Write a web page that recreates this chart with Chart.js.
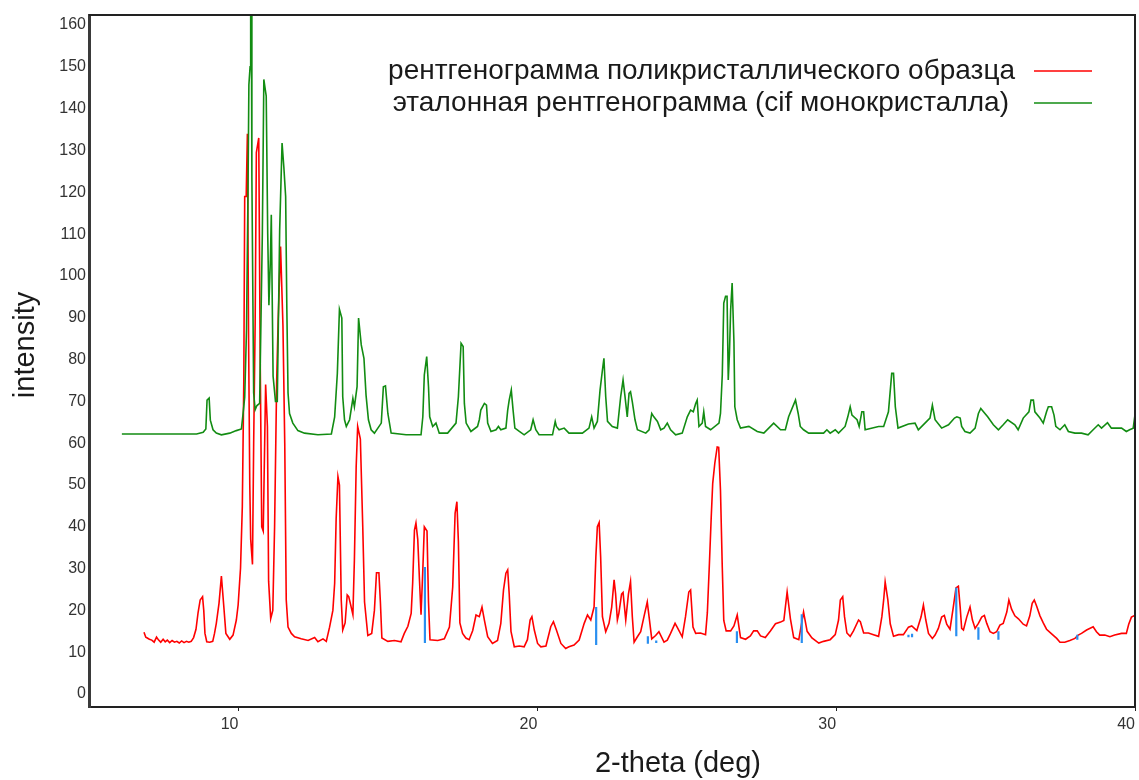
<!DOCTYPE html>
<html>
<head>
<meta charset="utf-8">
<script src="https://cdn.jsdelivr.net/npm/chart.js@4"></script>
<style>
  body { margin: 0; background: #fff; }
</style>
</head>
<body>
<canvas id="chart" width="1139" height="780"></canvas>
<script>
// axis ticks
const xTicks = [10, 20, 30, 40];
const yTicks = [0, 10, 20, 30, 40, 50, 60, 70, 80, 90, 100, 110, 120, 130, 140, 150, 160];

// polycrystal sample pattern (red)
const sampleTheta = [6.84, 6.9, 6.95, 7.02, 7.1, 7.18, 7.26, 7.33, 7.4, 7.48, 7.55, 7.62, 7.7, 7.78, 7.86, 7.94, 8.02, 8.1, 8.18, 8.26, 8.34, 8.42,
  8.5, 8.58, 8.65, 8.72, 8.8, 8.84, 8.88, 8.94, 9.04, 9.14, 9.2, 9.26, 9.35, 9.43, 9.51, 9.58, 9.71, 9.82, 9.93, 9.99,
  10.07, 10.13, 10.18, 10.21, 10.26, 10.30, 10.34, 10.38, 10.41, 10.47, 10.51, 10.56, 10.60, 10.68, 10.73, 10.78, 10.83, 10.91, 10.97,
  11.01, 11.08, 11.15, 11.21, 11.28, 11.33, 11.41, 11.49, 11.55, 11.6, 11.66, 11.77, 11.88,
  12.1, 12.33, 12.55, 12.66, 12.83, 12.94, 13.05, 13.16, 13.22, 13.27, 13.33, 13.38, 13.44, 13.49, 13.57, 13.64, 13.69, 13.75, 13.83, 13.88, 13.94, 13.99,
  14.08, 14.16, 14.22, 14.33, 14.46, 14.55, 14.62, 14.7, 14.75, 14.8, 15.0, 15.22, 15.44, 15.55, 15.67, 15.78, 15.83, 15.89, 15.94,
  16.0, 16.06, 16.11, 16.17, 16.22, 16.31, 16.36, 16.41, 16.67, 16.89, 17.06, 17.17, 17.25, 17.31, 17.36, 17.41, 17.5, 17.61, 17.72, 17.84, 17.95,
  18.06, 18.15, 18.23, 18.34, 18.5, 18.67, 18.78, 18.87, 18.95, 19.01, 19.06, 19.12, 19.23, 19.4, 19.56, 19.67, 19.76, 19.82, 19.9,
  20.01, 20.12, 20.29, 20.45, 20.54, 20.64, 20.79, 20.95, 21.06, 21.23, 21.4, 21.57, 21.68, 21.79, 21.9, 21.96,
  22.01, 22.07, 22.12, 22.18, 22.29, 22.4, 22.49, 22.57, 22.62, 22.68, 22.73, 22.82, 22.87, 22.96, 23.05, 23.12, 23.18, 23.24, 23.35, 23.46, 23.57, 23.68, 23.74, 23.83, 23.96,
  24.07, 24.24, 24.35, 24.46, 24.61, 24.68, 24.85, 24.96, 25.07, 25.13, 25.21, 25.3, 25.46, 25.63, 25.69, 25.76, 25.82, 25.87, 25.94,
  26.02, 26.07, 26.13, 26.19, 26.24, 26.32, 26.47, 26.58, 26.69, 26.8, 26.97, 27.13, 27.24, 27.36, 27.47, 27.63, 27.8, 27.97,
  28.14, 28.25, 28.36, 28.47, 28.58, 28.75, 28.91, 29.03, 29.19, 29.42, 29.58, 29.8, 29.97,
  30.08, 30.14, 30.22, 30.28, 30.36, 30.47, 30.58, 30.75, 30.81, 30.92, 31.08, 31.25, 31.42, 31.53, 31.59, 31.64, 31.73, 31.81, 31.92,
  32.09, 32.25, 32.42, 32.53, 32.7, 32.84, 32.92, 33.0, 33.09, 33.22, 33.31, 33.42, 33.53, 33.62, 33.7, 33.81, 33.92,
  34.01, 34.09, 34.15, 34.2, 34.26, 34.37, 34.48, 34.56, 34.65, 34.76, 34.87, 34.96, 35.04, 35.15, 35.26, 35.37, 35.48, 35.59, 35.71, 35.78, 35.87, 35.98,
  36.1, 36.26, 36.37, 36.48, 36.56, 36.63, 36.71, 36.82, 36.93, 37.04, 37.21, 37.38, 37.49, 37.65, 37.82, 37.99,
  38.1, 38.21, 38.38, 38.6, 38.71, 38.82, 38.99, 39.16, 39.32, 39.55, 39.71, 39.79, 39.88, 39.99, 40.07];
const sampleIntensity = [14.8, 13.6, 13.4, 13.1, 12.9, 12.4, 13.6, 12.9, 12.4, 13.1, 12.5, 12.9, 12.3, 12.8, 12.4, 12.6, 12.2, 12.7, 12.3, 12.6, 12.4, 12.6,
  13.5, 15.5, 19.5, 22.5, 23.3, 20, 14.5, 12.5, 12.4, 12.6, 14.5, 16.9, 21.7, 28.2, 21, 14.5, 13.1, 14.1, 17.7, 21.3,
  30.1, 44.8, 75, 119, 119, 134, 85, 50, 37, 31, 60, 89, 129.5, 133, 79, 40, 39, 74, 64,
  27, 18, 20, 40, 75, 89.5, 107, 88, 60, 22.5, 16, 14.5, 13.7,
  13.2, 12.8, 13.5, 12.5, 13.2, 12.6, 16, 20, 26.5, 42, 52, 50, 22.5, 15.3, 17, 23.7, 23.3, 21.5, 19, 32, 54.4, 64,
  61, 40, 22, 14, 14.5, 20, 29, 29, 22, 13.4, 12.6, 12.8, 12.5, 14.5, 16.2, 19.3, 26.5, 39.2, 40.9,
  37, 27, 19, 29.7, 40, 39, 22, 13, 12.8, 13.2, 16, 25.6, 43.2, 46, 36.5, 17, 14.5, 13.4, 13, 15.2, 18.9,
  18.5, 20.8, 17.7, 13.7, 12.1, 12.8, 16.9, 24.9, 28.9, 29.7, 24, 15, 11.3, 11.5, 11.3, 13, 17.7, 18.5, 15.3,
  12.1, 11.3, 11.5, 16.1, 17.3, 15.3, 12.1, 10.9, 11.3, 11.7, 12.9, 16.9, 18.9, 17.7, 20.8, 32.8,
  40, 41, 32.8, 18.5, 14.9, 16.9, 20.8, 27.3, 24, 17.7, 19.3, 23.9, 24.3, 17.7, 23.9, 26.9, 18.5, 12.4, 13.7, 14.9, 18.5, 22, 18.5, 13.2, 14,
  14.9, 12.4, 12.9, 14.5, 16.9, 16, 13.7, 18.5, 24.4, 24.9, 16, 14.5, 14.6, 14.2, 19.4, 31.3, 42.3, 50.4, 55.2,
  59.1, 59, 48.7, 30.3, 17.6, 15.1, 15.1, 16.3, 18.9, 13.5, 13.1, 13.9, 15.1, 15.1, 13.9, 13.5, 15.1, 16.8,
  17.2, 17.6, 24.4, 18, 13.5, 13, 19.6, 15, 13.4, 12.2, 12.6, 13, 14.2,
  17.7, 22.5, 23.3, 18.5, 14.6, 13.8, 15.1, 17.7, 17.3, 14.6, 14.6, 14.2, 13.8, 18.5, 22.5, 26.8, 22.5, 16.8, 13.8,
  14.2, 14.2, 16, 16.3, 15.2, 18.4, 21.3, 17.7, 14.5, 13.3, 14.1, 15.7, 18.4, 18.8, 16.7, 15.5, 20.8,
  25.4, 25.8, 20.8, 15.7, 15.3, 18.4, 20.8, 17.7, 15.7, 16.9, 18.4, 18.8, 16.9, 14.9, 14.5, 14.9, 16.5, 16.9, 19.6, 22.5, 20.3, 18.7,
  18, 16.7, 16.3, 18.7, 21.7, 22.5, 21, 18.7, 17, 15.5, 14.4, 13.3, 12.4, 12.4, 12.8, 13.3,
  14.1, 14.5, 15.3, 16.1, 14.9, 14.1, 14.1, 13.7, 14.1, 14.5, 14.5, 16.7, 18.4, 18.8, 19];

// reference pattern from single-crystal cif (green)
const refTheta = [6.1, 8.6, 8.82, 8.91, 8.95, 9.02, 9.06, 9.15, 9.26, 9.43, 9.71, 9.93,
  10.10, 10.15, 10.21, 10.27, 10.32, 10.35, 10.39, 10.41, 10.43, 10.45, 10.51, 10.56, 10.62, 10.71, 10.80, 10.85, 10.89, 10.93, 10.98,
  11.02, 11.07, 11.10, 11.16, 11.24, 11.30, 11.38, 11.46, 11.52, 11.58, 11.62, 11.66, 11.71, 11.82, 11.99,
  12.21, 12.66, 13.11, 13.22, 13.31, 13.38, 13.46, 13.49, 13.55, 13.61, 13.72, 13.83, 13.88, 13.97,
  14.02, 14.11, 14.2, 14.27, 14.35, 14.44, 14.55, 14.78, 14.85, 14.92, 15.0, 15.11, 15.61,
  16.11, 16.17, 16.22, 16.3, 16.36, 16.4, 16.5, 16.61, 16.72, 17.0, 17.28, 17.36, 17.45, 17.52, 17.56, 17.62, 17.78,
  18.0, 18.06, 18.11, 18.23, 18.3, 18.34, 18.45, 18.62, 18.7, 18.78, 18.95, 19.01, 19.06, 19.13, 19.19, 19.25, 19.4, 19.56, 19.78, 19.86, 19.95,
  20.06, 20.51, 20.6, 20.64, 20.73, 20.9, 21.06, 21.51, 21.73, 21.82, 21.9,
  22.01, 22.1, 22.18, 22.23, 22.29, 22.35, 22.51, 22.68, 22.79, 22.87, 22.93, 23.01, 23.07, 23.12, 23.18, 23.27, 23.35, 23.63, 23.74, 23.83, 23.9,
  24.02, 24.13, 24.24, 24.35, 24.46, 24.63, 24.85, 25.02, 25.13, 25.22, 25.3, 25.35, 25.41, 25.52, 25.57, 25.63, 25.8,
  26.08, 26.13, 26.19, 26.24, 26.3, 26.35, 26.39, 26.43, 26.47, 26.52, 26.58, 26.61, 26.69, 26.8, 27.08, 27.36, 27.58, 27.91,
  28.14, 28.3, 28.41, 28.64, 28.73, 28.8, 28.91, 29.08, 29.58, 29.69, 29.8, 29.97,
  30.08, 30.3, 30.39, 30.47, 30.53, 30.7, 30.77, 30.86, 30.92, 30.97, 31.42, 31.59, 31.75, 31.86, 31.92, 31.98,
  32.07, 32.42, 32.64, 32.75, 33.03, 33.14, 33.22, 33.31, 33.53, 33.76, 33.96,
  34.04, 34.15, 34.2, 34.31, 34.48, 34.65, 34.76, 34.84, 34.93, 35.07, 35.26, 35.43, 35.59, 35.74, 35.98,
  36.09, 36.26, 36.45, 36.52, 36.6, 36.65, 36.82, 36.93, 37.04, 37.1, 37.21, 37.29, 37.35, 37.49, 37.65, 37.77, 37.99,
  38.21, 38.43, 38.6, 38.77, 38.88, 39.08, 39.21, 39.38, 39.55, 39.71, 39.82, 39.94, 39.99, 40.05];
const refIntensity = [62.2, 62.2, 62.6, 63.4, 70.3, 70.8, 65.5, 63.2, 62.4, 62.0, 62.4, 63.0,
  63.4, 66.7, 71, 87, 119.8, 145.7, 150, 170, 170, 123.7, 72, 68, 69, 69.5, 110, 147, 145, 143, 110,
  93, 104, 114.6, 76, 70, 70, 111, 131.8, 126, 119, 92, 72, 67.1, 64.8, 63.0,
  62.4, 62.0, 62.2, 66.3, 76.7, 92.0, 89.9, 71.1, 65.6, 64.0, 65.6, 70.7, 68.7, 73.5,
  89.9, 83.5, 80.3, 71.5, 65.6, 63.2, 62.4, 64.8, 73.5, 73.7, 67.1, 62.4, 62.0,
  62.0, 66.3, 76.3, 80.7, 73.5, 66.3, 64.0, 64.8, 62.4, 62.4, 64.8, 71.1, 83.9, 83.1, 69.5, 64.8, 62.8,
  64.0, 65.6, 67.9, 69.5, 69.1, 64.8, 62.8, 63.2, 64.0, 63.2, 63.6, 67.9, 70.3, 72.7, 67.9, 63.6, 62.8, 62.0, 63.2, 65.6, 63.2,
  62.0, 62.0, 65.2, 64.0, 63.2, 63.6, 62.4, 62.4, 63.6, 66.3, 63.6,
  65.2, 72.7, 77.5, 80.3, 71.1, 65.2, 64.0, 63.6, 71.1, 75.1, 71.5, 66.3, 71.9, 72.3, 69.9, 65.6, 63.2, 62.4, 63.2, 67.1, 66.3,
  65.2, 63.2, 63.6, 64.8, 63.2, 62.0, 62.4, 66.3, 67.9, 67.5, 69.5, 70.3, 64.0, 64.8, 67.5, 64.0, 63.2,
  64.8, 67.1, 76.3, 93.5, 95.1, 95.1, 75.1, 81.5, 91.9, 98.3, 84.3, 68.7, 65.6, 63.6, 64.0, 62.8, 62.4, 64.8,
  63.2, 63.2, 66.3, 70.3, 67.1, 64.0, 63.2, 62.4, 62.4, 63.2, 62.4, 63.2,
  62.4, 64.0, 66.3, 68.7, 66.7, 65.6, 64.0, 67.5, 67.5, 63.2, 64.0, 64.0, 67.5, 76.7, 76.7, 68.7,
  63.6, 64.6, 64.8, 63.2, 65.2, 66.0, 69.1, 65.6, 63.6, 64.4, 66.0,
  66.3, 66.0, 64.0, 62.8, 62.4, 63.6, 67.1, 68.3, 67.5, 66.3, 64.4, 63.2, 64.4, 65.6, 64.4,
  63.2, 66.0, 67.5, 70.3, 70.3, 67.5, 66.0, 64.8, 67.5, 68.7, 68.7, 66.7, 64.0, 63.2, 64.4, 62.8, 62.4,
  62.4, 62.0, 63.2, 64.4, 63.6, 64.9, 63.6, 63.6, 63.6, 62.8, 63.2, 63.6, 66.3, 69.1];

// blue sticks under the sample pattern
const stickTheta = [16.24, 21.97, 23.7, 23.98, 26.68, 28.85, 32.42, 32.54, 34.02, 34.76, 35.43, 38.07];
const stickLow = [12.2, 11.7, 12.0, 12.2, 12.2, 12.2, 13.6, 13.6, 13.8, 13.0, 13.0, 13.0];
const stickHigh = [30.4, 20.8, 13.8, 12.8, 15.0, 19.1, 14.2, 14.4, 25.4, 16.0, 15.0, 14.2];

const sampleLabel = "рентгенограмма поликристаллического образца";
const refLabel = "эталонная рентгенограмма (cif монокристалла)";

const tickFont = "'Liberation Sans Narrow', 'Liberation Sans', Arial, sans-serif";
const textFont = "'Liberation Sans', Arial, sans-serif";

const samplePoints = sampleTheta.map((t, i) => ({ x: t, y: sampleIntensity[i] }));
const refPoints = refTheta.map((t, i) => ({ x: t, y: refIntensity[i] }));
const stickPoints = [];
stickTheta.forEach((t, i) => {
  stickPoints.push({ x: t, y: stickLow[i] });
  stickPoints.push({ x: t, y: stickHigh[i] });
  stickPoints.push({ x: t, y: null });
});

// frame, legend and axis titles
const decorations = {
  id: "decorations",
  afterDraw(chart) {
    const ctx = chart.ctx;
    const a = chart.chartArea;
    ctx.save();
    ctx.strokeStyle = "#222";
    ctx.lineWidth = 2;
    ctx.beginPath();
    ctx.moveTo(a.left, a.top);
    ctx.lineTo(a.right, a.top);
    ctx.lineTo(a.right, a.bottom);
    ctx.stroke();

    // legend: text, then a short line sample to its right
    const items = chart.data.datasets
      .filter((d) => d.legendRank !== undefined)
      .sort((p, q) => p.legendRank - q.legendRank);
    ctx.font = "28px " + textFont;
    ctx.textAlign = "right";
    ctx.textBaseline = "middle";
    items.forEach((d, i) => {
      const y = 71 + i * 32;
      ctx.fillStyle = "#1a1a1a";
      ctx.fillText(d.label, 1015 - i * 6, y);
      ctx.strokeStyle = d.borderColor;
      ctx.lineWidth = 1.5;
      ctx.beginPath();
      ctx.moveTo(1034, y);
      ctx.lineTo(1092, y);
      ctx.stroke();
    });

    // axis titles
    ctx.fillStyle = "#1a1a1a";
    ctx.textAlign = "center";
    ctx.font = "29px " + textFont;
    ctx.fillText("2-theta (deg)", 678, 764);
    ctx.translate(26, 345);
    ctx.rotate(-Math.PI / 2);
    ctx.fillText("intensity", 0, 0);
    ctx.restore();
  },
};

new Chart(document.getElementById("chart"), {
  type: "line",
  data: {
    datasets: [
      {
        label: "sticks",
        data: stickPoints,
        borderColor: "#2a8ff0",
        borderWidth: 2.2,
        spanGaps: false,
        order: 0,
      },
      {
        label: refLabel,
        data: refPoints,
        borderColor: "#128c12",
        borderWidth: 1.6,
        legendRank: 1,
        order: 1,
      },
      {
        label: sampleLabel,
        data: samplePoints,
        borderColor: "#ff0000",
        borderWidth: 1.6,
        legendRank: 0,
        order: 2,
      },
    ],
  },
  options: {
    responsive: false,
    animation: false,
    layout: { padding: { top: 15, right: 2, left: 0, bottom: 0 } },
    elements: {
      point: { radius: 0 },
      line: { tension: 0 },
    },
    scales: {
      x: {
        type: "linear",
        min: 5,
        max: 40,
        afterBuildTicks: (scale) => {
          scale.ticks = xTicks.map((v) => ({ value: v }));
        },
        afterFit: (scale) => {
          scale.height = 73;
        },
        grid: { drawOnChartArea: false, drawTicks: true, tickLength: 4, color: "#222" },
        border: { display: true, color: "#222", width: 2 },
        ticks: {
          align: "end",
          maxRotation: 0,
          padding: 4,
          color: "#333",
          font: { family: tickFont, size: 16 },
        },
      },
      y: {
        min: -3.1,
        max: 162.4,
        afterBuildTicks: (scale) => {
          scale.ticks = yTicks.map((v) => ({ value: v }));
        },
        afterFit: (scale) => {
          scale.width = 89;
        },
        grid: { drawOnChartArea: false, drawTicks: false },
        border: { display: true, color: "#3a3a3a", width: 3 },
        ticks: {
          padding: 3,
          color: "#333",
          font: { family: tickFont, size: 16 },
        },
      },
    },
    plugins: {
      legend: { display: false },
      tooltip: { enabled: false },
    },
  },
  plugins: [decorations],
});
</script>
</body>
</html>
